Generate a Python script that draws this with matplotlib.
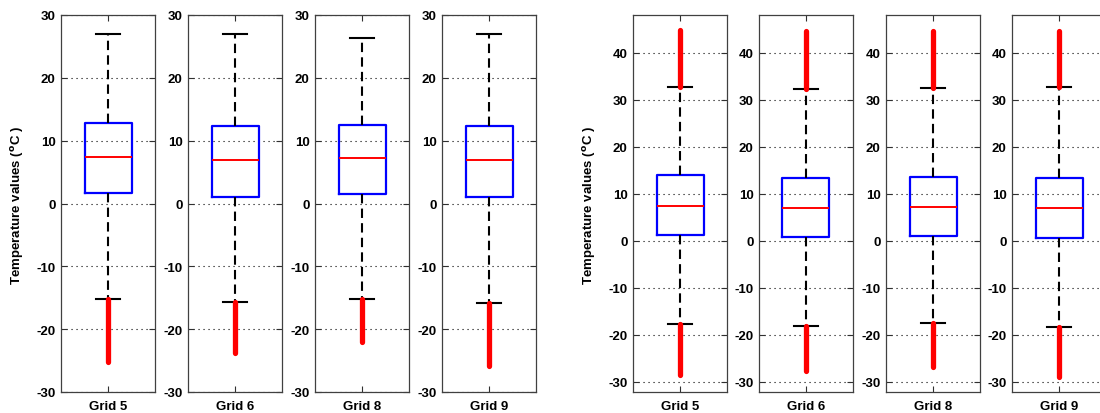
# Boxplots of temperature values for four grids (two data sets)
# ============================================

# Imports
import matplotlib
matplotlib.use("Agg")
import matplotlib.pyplot as plt
# ============================================

plt.rc('font', family = ['Liberation Sans', 'DejaVu Sans'], size = 9.5, weight = 'bold')
plt.rc('axes', labelweight = 'bold', unicode_minus = False)
# ============================================

# Data
grids = ['Grid 5', 'Grid 6', 'Grid 8', 'Grid 9']

# left set
a_q1 = [1.7, 1.1, 1.5, 1.1]
a_med = [7.4, 6.9, 7.2, 6.9]
a_q3 = [12.8, 12.3, 12.5, 12.3]
a_whislo = [-15.2, -15.7, -15.2, -15.9]
a_whishi = [27.0, 27.0, 26.3, 27.0]
a_outlo = [-25.3, -23.8, -22.1, -25.8]
a_outhi = [None, None, None, None]

# right set
b_q1 = [1.3, 0.8, 1.0, 0.6]
b_med = [7.4, 7.0, 7.2, 6.9]
b_q3 = [13.9, 13.4, 13.6, 13.4]
b_whislo = [-17.7, -18.1, -17.5, -18.4]
b_whishi = [32.6, 32.2, 32.4, 32.6]
b_outlo = [-28.5, -27.8, -26.9, -29.1]
b_outhi = [44.8, 44.5, 44.7, 44.7]
# ============================================

W, H = 1100, 414
fig = plt.figure(figsize = (W / 100, H / 100), dpi = 100)

def draw_group(lefts, q1, med, q3, wlo, whi, olo, ohi, ylim, yticks, label_x):
    for i, left in enumerate(lefts):
        ax = fig.add_axes([left / W, (H - 393) / H, 94 / W, 377 / H])
        stats = [dict(med = med[i], q1 = q1[i], q3 = q3[i],
                      whislo = wlo[i], whishi = whi[i], fliers = [])]
        ax.bxp(stats, positions = [1], widths = 0.5, capwidths = 0.25,
               showfliers = False,
               boxprops = dict(color = 'blue', linewidth = 1.6),
               medianprops = dict(color = 'red', linewidth = 1.4),
               whiskerprops = dict(color = 'black', linewidth = 1.5, linestyle = (0, (4.5, 2.5))),
               capprops = dict(color = 'black', linewidth = 1.5))
        # outliers (dense, drawn as a thick red run)
        if olo[i] is not None:
            ax.plot([1, 1], [wlo[i], olo[i]], color = 'red', linewidth = 3.8,
                    solid_capstyle = 'round', zorder = 3)
        if ohi[i] is not None:
            ax.plot([1, 1], [whi[i], ohi[i]], color = 'red', linewidth = 3.8,
                    solid_capstyle = 'round', zorder = 3)
        ax.set_xlim(0.5, 1.5)
        ax.set_ylim(ylim)
        ax.set_yticks(yticks)
        ax.set_xticks([1])
        ax.set_xticklabels([grids[i]])
        ax.tick_params(direction = 'in', length = 4, width = 0.8, color = '#303030',
                       top = True, right = True, pad = 4)
        ax.tick_params(axis = 'x', pad = 6)
        ax.grid(axis = 'y', color = 'black', linestyle = (0, (1, 3.5)), linewidth = 0.8)
        ax.set_axisbelow(True)
        for s in ax.spines.values():
            s.set_color('#404040')
            s.set_linewidth(0.9)
    fig.text(label_x / W, 1 - 205 / H, r'Temperature values ($^{\mathbf{o}}$C )',
             rotation = 90, ha = 'center', va = 'center', fontweight = 'bold')

# Main
if __name__ == '__main__':
    draw_group([61, 188, 315, 442], a_q1, a_med, a_q3, a_whislo, a_whishi,
               a_outlo, a_outhi, (-30, 30), range(-30, 31, 10), 18)
    draw_group([633, 759, 886, 1012], b_q1, b_med, b_q3, b_whislo, b_whishi,
               b_outlo, b_outhi, (-32.2, 48), range(-30, 41, 10), 590)
    fig.savefig("out.png", dpi = 100)
# ============================================
